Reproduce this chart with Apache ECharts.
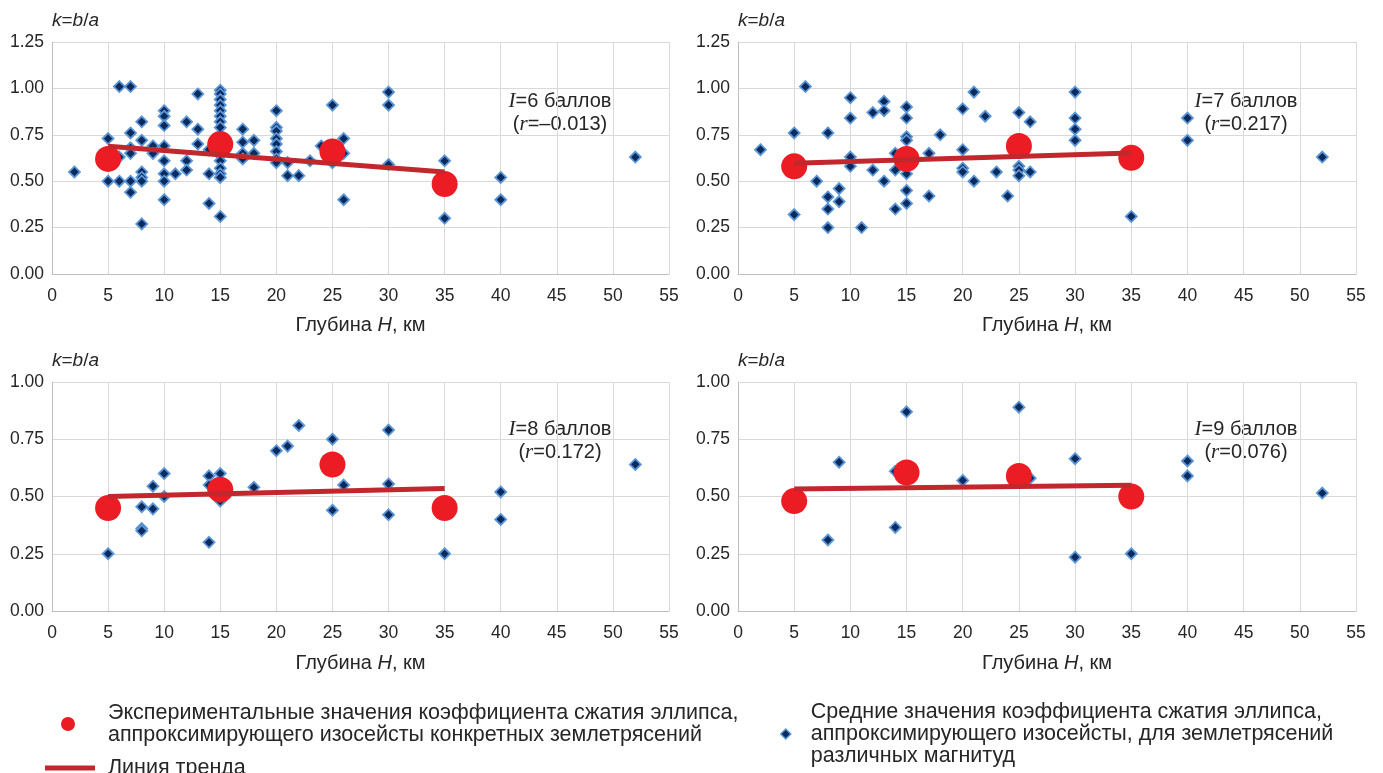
<!DOCTYPE html>
<html><head><meta charset="utf-8">
<script src="https://cdn.jsdelivr.net/npm/echarts@6/dist/echarts.min.js"></script>
<style>html,body{margin:0;padding:0;background:#fff}#c{width:1383px;height:773px}</style>
</head><body><div id="c"></div>
<script>
// ---- tick labels ----
const xTicks = [0,5,10,15,20,25,30,35,40,45,50,55];
const yTicksTop = [0.00,0.25,0.50,0.75,1.00,1.25];
const yTicksBottom = [0.00,0.25,0.50,0.75,1.00];

// ---- panel labels ----
const intensities = ['6','7','8','9'];
const rValues = ['–0.013','0.217','0.172','0.076'];

// ---- mean values [depth H, k] ----
const mean6 = [[2,0.55],[5,0.73],[5,0.50],[6,1.01],[6,0.63],[6,0.50],[7,1.01],[7,0.76],[7,0.68],[7,0.65],[7,0.50],[7,0.44],
 [8,0.82],[8,0.72],[8,0.55],[8,0.52],[8,0.50],[8,0.27],[9,0.69],[9,0.65],
 [10,0.88],[10,0.85],[10,0.80],[10,0.69],[10,0.61],[10,0.54],[10,0.50],[10,0.40],[11,0.54],
 [12,0.82],[12,0.61],[12,0.56],[13,0.97],[13,0.78],[13,0.70],[14,0.67],[14,0.54],[14,0.38],
 [15,0.99],[15,0.97],[15,0.94],[15,0.91],[15,0.88],[15,0.85],[15,0.82],[15,0.79],[15,0.64],[15,0.61],[15,0.57],[15,0.54],[15,0.52],[15,0.31],
 [17,0.78],[17,0.71],[17,0.65],[17,0.62],[18,0.72],[18,0.65],
 [20,0.88],[20,0.79],[20,0.77],[20,0.73],[20,0.70],[20,0.66],[20,0.62],[20,0.60],
 [21,0.60],[21,0.53],[22,0.53],[23,0.61],[24,0.69],[25,0.91],[25,0.60],[26,0.73],[26,0.65],[26,0.40],
 [30,0.98],[30,0.91],[30,0.59],[35,0.61],[35,0.30],[40,0.52],[40,0.40],[52,0.63]];
const mean7 = [[2,0.67],[5,0.76],[5,0.32],[6,1.01],[7,0.50],[8,0.76],[8,0.415],[8,0.35],[8,0.25],[9,0.46],[9,0.39],
 [10,0.95],[10,0.84],[10,0.63],[10,0.58],[11,0.25],[12,0.87],[12,0.56],[13,0.93],[13,0.88],[13,0.50],
 [14,0.65],[14,0.56],[14,0.35],[15,0.90],[15,0.84],[15,0.74],[15,0.72],[15,0.54],[15,0.45],[15,0.38],
 [17,0.65],[17,0.42],[18,0.75],[20,0.89],[20,0.67],[20,0.57],[20,0.55],[21,0.98],[21,0.50],[22,0.85],
 [23,0.55],[24,0.42],[25,0.87],[25,0.58],[25,0.56],[25,0.53],[26,0.82],[26,0.55],
 [30,0.98],[30,0.84],[30,0.78],[30,0.72],[35,0.31],[40,0.84],[40,0.72],[52,0.63]];
const mean8 = [[5,0.25],[8,0.455],[8,0.36],[8,0.35],[9,0.545],[9,0.446],[10,0.60],[10,0.50],[14,0.59],[14,0.55],[14,0.30],
 [15,0.60],[15,0.48],[18,0.54],[20,0.70],[21,0.72],[22,0.81],[25,0.75],[25,0.44],[26,0.55],
 [30,0.79],[30,0.555],[30,0.42],[35,0.25],[40,0.52],[40,0.40],[52,0.64]];
const mean9 = [[8,0.31],[9,0.65],[14,0.365],[14,0.61],[15,0.87],[20,0.57],[25,0.89],[26,0.58],
 [30,0.665],[30,0.235],[35,0.25],[40,0.655],[40,0.59],[52,0.515]];

// ---- experimental values [depth H, k] ----
const exp6 = [[5,0.62],[15,0.70],[25,0.66],[35,0.485]];
const exp7 = [[5,0.58],[15,0.62],[25,0.69],[35,0.626]];
const exp8 = [[5,0.45],[15,0.53],[25,0.64],[35,0.45]];
const exp9 = [[5,0.48],[15,0.605],[25,0.59],[35,0.50]];

// ---- trend lines (end points) ----
const trend6 = [[5,0.688],[35,0.549]];
const trend7 = [[5,0.597],[35,0.652]];
const trend8 = [[5,0.500],[35,0.535]];
const trend9 = [[5,0.533],[35,0.549]];

const nameExp = 'Экспериментальные значения коэффициента сжатия эллипса,\nаппроксимирующего изосейсты конкретных землетрясений';
const nameTrend = 'Линия тренда';
const nameMean = 'Средние значения коэффициента сжатия эллипса,\nаппроксимирующего изосейсты, для землетрясений\nразличных магнитуд';

const means = [mean6, mean7, mean8, mean9];
const exps = [exp6, exp7, exp8, exp9];
const trends = [trend6, trend7, trend8, trend9];

const FONT = "'Liberation Sans', Arial, sans-serif";
const TXT = '#262626';
const RED = '#ec1c24';
const TREND = '#c1272d';
const DIAMOND = '#0b2a5e';
const DIAMOND_BORDER = '#5b95d6';
const grids = [
  {left:52, top:42, width:617, height:232},
  {left:738, top:42, width:618, height:232},
  {left:52, top:382, width:617, height:229},
  {left:738, top:382, width:618, height:229}
];

const xAxes = grids.map((g,i)=>({
  type:'value', gridIndex:i, min:xTicks[0], max:xTicks[xTicks.length-1], interval:xTicks[1]-xTicks[0],
  name:'Глубина {i|H}, км', nameLocation:'middle', nameGap: i<2 ? 41 : 42,
  nameTextStyle:{fontSize:20, fontFamily:FONT, color:TXT, rich:{i:{fontStyle:'italic', fontSize:20, fontFamily:FONT, color:TXT}}},
  axisLine:{show:true, lineStyle:{color:'#bfbfbf', width:1}},
  axisTick:{show:false},
  axisLabel:{fontSize:17.5, fontFamily:FONT, color:TXT, margin:13},
  splitLine:{show:true, lineStyle:{color:'#d9d9d9', width:1}}
}));
const yAxes = grids.map((g,i)=>{
  const t = i<2 ? yTicksTop : yTicksBottom;
  return {
  type:'value', gridIndex:i, min:t[0], max:t[t.length-1], interval:t[1]-t[0],
  name:'{i|k}={i|b}/{i|a}', nameLocation:'end', nameGap:12,
  nameTextStyle:{fontSize:19, fontFamily:FONT, color:TXT, align:'left',
    rich:{i:{fontStyle:'italic', fontFamily:FONT, fontSize:19, color:TXT}}},
  axisLine:{show:true, lineStyle:{color:'#bfbfbf', width:1}},
  axisTick:{show:false},
  axisLabel:{fontSize:17.5, fontFamily:FONT, color:TXT, margin:8, padding:[5,0,0,0], formatter:v=>v.toFixed(2)},
  splitLine:{show:true, lineStyle:{color:'#d9d9d9', width:1}}
};});

const series = [];
for (let i=0;i<4;i++){
  series.push({type:'scatter', name:nameMean, xAxisIndex:i, yAxisIndex:i, data:means[i], symbol:'diamond', symbolSize:11,
    itemStyle:{color:DIAMOND, borderColor:DIAMOND_BORDER, borderWidth:1.8, opacity:1}, z:2, silent:true});
  series.push({type:'scatter', name:nameExp, xAxisIndex:i, yAxisIndex:i, data:exps[i], symbol:'circle', symbolSize:26,
    itemStyle:{color:RED, opacity:1}, z:3, silent:true});
  series.push({type:'line', name:nameTrend, xAxisIndex:i, yAxisIndex:i, data:trends[i], symbol:'none',
    lineStyle:{color:TREND, width:5}, itemStyle:{color:TREND}, z:4, silent:true});
}

const annPos = [[560,113],[1246,113],[560,441],[1246,441]];
const graphic = annPos.map((p,i)=>({
  type:'text', x:p[0], y:p[1], silent:true,
  style:{text:'{i|I}='+intensities[i]+' баллов\n({i|r}='+rValues[i]+')', align:'center', verticalAlign:'middle',
    fontSize:20, lineHeight:23, fontFamily:FONT, fill:TXT,
    rich:{i:{fontStyle:'italic', fontFamily:"'Liberation Serif', serif", fontSize:21, fill:TXT}}}
}));

const legendText = {fontSize:21.5, lineHeight:22, fontFamily:FONT, color:TXT};
const option = {
  backgroundColor:'#fff',
  animation:false,
  grid:grids,
  xAxis:xAxes,
  yAxis:yAxes,
  series:series,
  graphic:graphic,
  legend:[
    {data:[{name:nameExp, icon:'circle', itemStyle:{color:RED}}], left:61, top:702, padding:0, itemWidth:14, itemHeight:14,
      selectedMode:false, textStyle:Object.assign({padding:[0,0,0,28]}, legendText)},
    {data:[{name:nameTrend, icon:'rect', itemStyle:{color:TREND}}], left:45, top:757, padding:0, itemWidth:50, itemHeight:5,
      selectedMode:false, textStyle:Object.assign({padding:[0,0,0,8]}, legendText)},
    {data:[{name:nameMean, icon:'diamond', itemStyle:{color:DIAMOND, borderColor:DIAMOND_BORDER, borderWidth:1.5}}], left:780, top:701, padding:0, itemWidth:10, itemHeight:10,
      selectedMode:false, textStyle:Object.assign({padding:[0,0,0,15]}, legendText)}
  ]
};
const chart = echarts.init(document.getElementById('c'), null, {renderer:'canvas'});
chart.setOption(option);
</script>
</body></html>
